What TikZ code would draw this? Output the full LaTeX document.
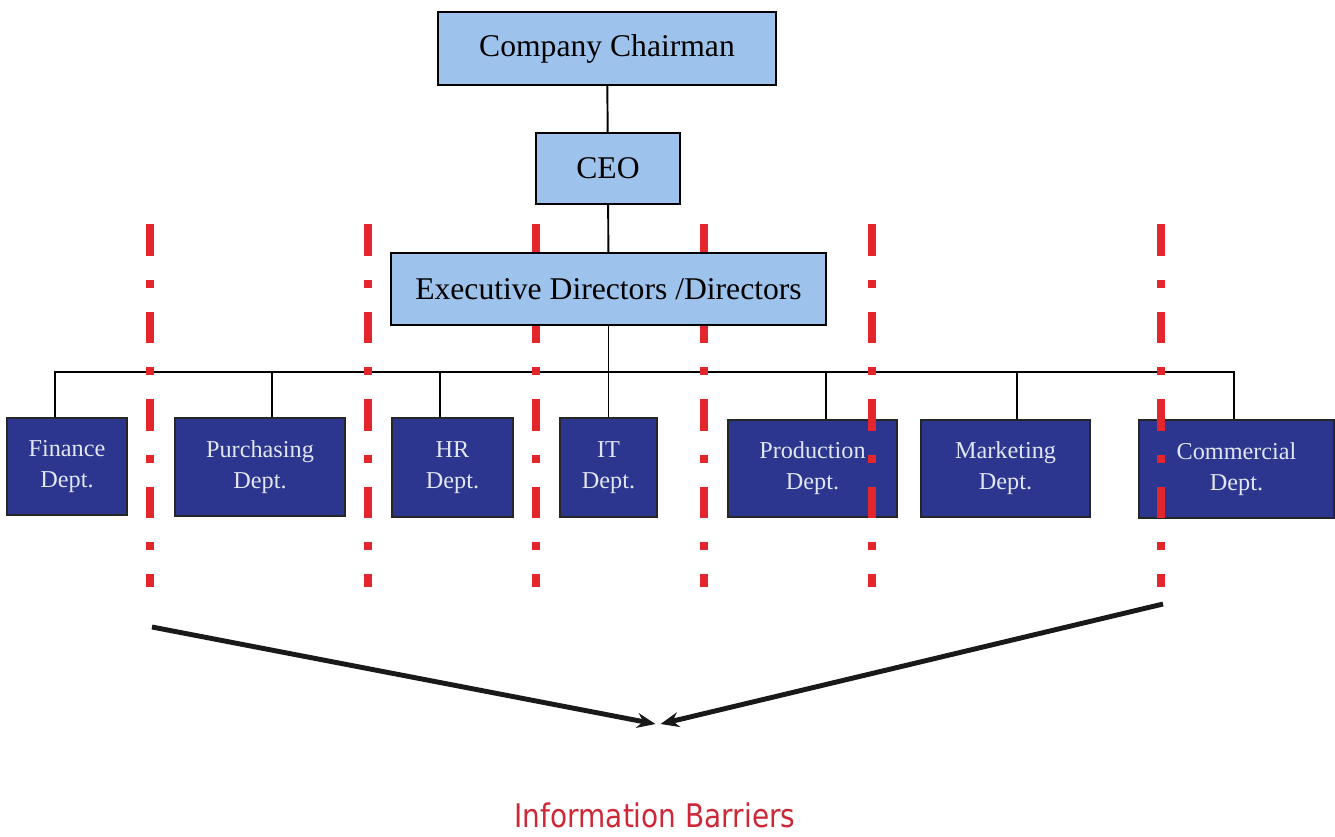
\documentclass[tikz,border=0pt]{standalone}
\usepackage{fontspec}
\setmainfont{Liberation Serif}
\newfontfamily\labelfont[FakeStretch=0.86]{DejaVu Sans}
\usetikzlibrary{arrows.meta}
\definecolor{topblue}{RGB}{157,195,236}
\definecolor{deptblue}{RGB}{44,54,142}
\definecolor{depttext}{RGB}{226,230,242}
\definecolor{barrier}{RGB}{226,38,44}
\definecolor{captionred}{RGB}{205,40,55}
\pgfdeclarelayer{bg}
\pgfsetlayers{bg,main}
\tikzset{
  topbox/.style={draw=black, line width=1.3pt, fill=topblue, inner sep=0pt,
    font=\fontsize{18}{21}\selectfont},
  deptbox/.style={draw=black!85, line width=1.1pt, fill=deptblue, inner sep=0pt,
    text=depttext, align=center, font=\fontsize{13.8}{17.5}\selectfont},
  orgline/.style={draw=black, line width=1.1pt},
  barrierline/.style={draw=barrier, line width=4.5pt,
    dash pattern=on 18.1pt off 13.6pt on 4.5pt off 13.6pt},
  bigarrow/.style={draw=black!90, line width=2.8pt,
    -{Stealth[length=10.5pt,width=8.5pt]}}
}
\begin{document}
\begin{tikzpicture}[x=0.02cm, y=-0.02cm]
\useasboundingbox (0,0) rectangle (1335,836);

% departments
\node[deptbox, minimum width=2.40cm, minimum height=1.94cm] (fin)  at (67,466.5)   {Finance\\Dept.};
\node[deptbox, minimum width=3.40cm, minimum height=1.96cm] (pur)  at (260,467)    {Purchasing\\Dept.};
\node[deptbox, minimum width=2.42cm, minimum height=1.98cm] (hr)   at (452.5,467.5){HR\\Dept.};
\node[deptbox, minimum width=1.94cm, minimum height=1.98cm] (it)   at (608.5,467.5){IT\\Dept.};
\node[deptbox, minimum width=3.38cm, minimum height=1.94cm] (prod) at (812.5,468.5){Production\\Dept.};
\node[deptbox, minimum width=3.38cm, minimum height=1.94cm] (mkt)  at (1005.5,468.5){Marketing\\Dept.};
\node[deptbox, minimum width=3.90cm, minimum height=1.96cm] (com)  at (1236.5,469) {Commercial\\Dept.};

% information barriers
\foreach \bx in {150,368,536,704,872,1161}
  \draw[barrierline] (\bx,224) -- (\bx,587);

% management
\node[topbox, minimum width=6.76cm, minimum height=1.46cm] (chair) at (607,48.5)  {Company Chairman};
\node[topbox, minimum width=2.88cm, minimum height=1.42cm] (ceo)   at (608,168.5) {CEO};
\node[topbox, minimum width=8.70cm, minimum height=1.44cm] (exec)  at (608.5,289) {Executive Directors /Directors};

% reporting lines
\begin{pgfonlayer}{bg}
  \draw[orgline] (chair) -- (ceo);
  \draw[orgline] (ceo) -- (exec);
  \coordinate (hub) at (exec.south |- 0,372);
  \draw[orgline] (exec.south) -- (hub);
  \draw[orgline] ([xshift=-0.24cm]fin.north) |- (hub);
  \draw[orgline] ([xshift=0.24cm]pur.north) |- (hub);
  \draw[orgline] ([xshift=-0.25cm]hr.north) |- (hub);
  \draw[orgline] (it.north) |- (hub);
  \draw[orgline] ([xshift=0.27cm]prod.north) |- (hub);
  \draw[orgline] ([xshift=0.23cm]mkt.north) |- (hub);
  \draw[orgline] ([xshift=-0.05cm]com.north) |- (hub);
\end{pgfonlayer}

% arrows converging on the caption
\coordinate (la) at (152,627);
\coordinate (ra) at (1163,604);
\coordinate (meet) at (658,724);
\draw[bigarrow] (la) -- ([xshift=-0.05cm]meet);
\draw[bigarrow] (ra) -- ([xshift=0.05cm]meet);

\node[text=captionred, font=\labelfont\fontsize{18.5}{22}\selectfont] (cap) at (655,815) {Information Barriers};
\end{tikzpicture}
\end{document}
